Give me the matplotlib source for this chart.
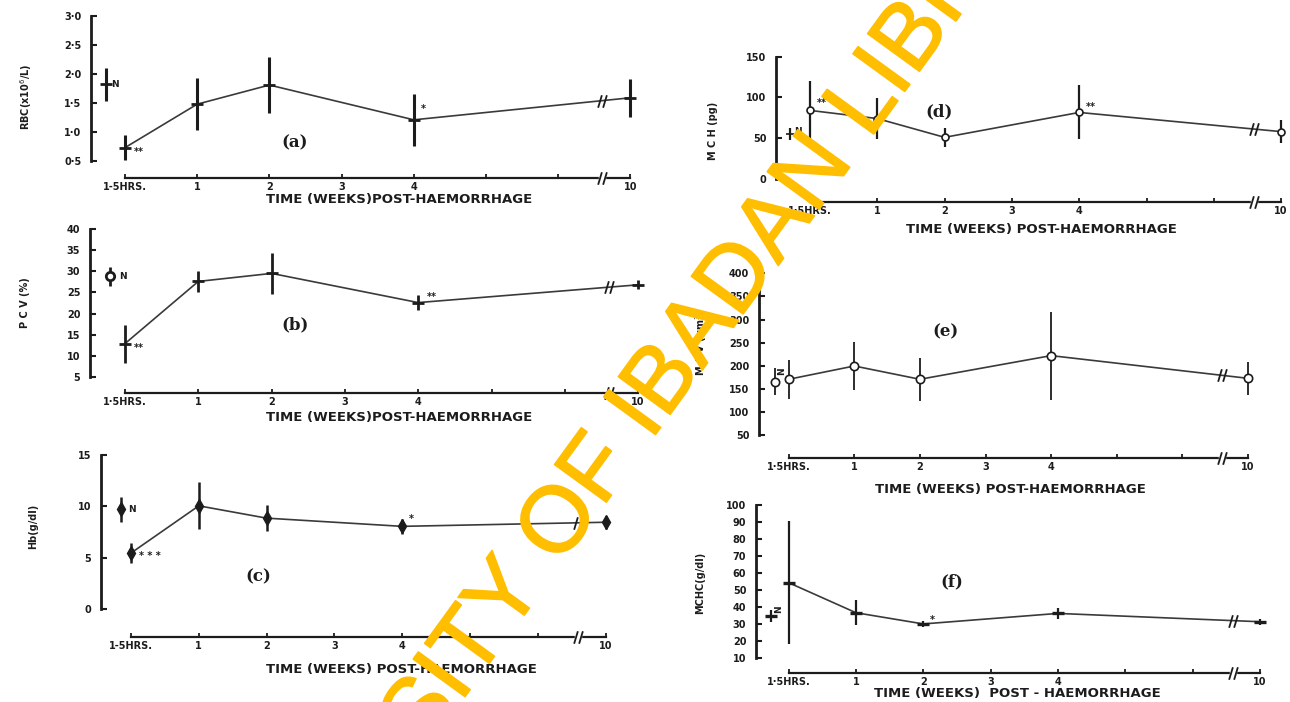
import matplotlib
matplotlib.use("Agg")
import matplotlib.pyplot as plt
import numpy as np
from matplotlib.path import Path
from matplotlib.ticker import FuncFormatter
from matplotlib import transforms as mtrans
from matplotlib import patheffects as pe

W, H = 1290, 702
fig = plt.figure(figsize=(W / 100, H / 100), dpi=100)
fig.patch.set_facecolor("white")

# ---------------------------------------------------------------- data
# time axis: 1-5 h is drawn at 0, weeks 1-4 at 1-4, week 10 after the break at 7
time_pos = [0, 1, 2, 4, 7]
tick_pos = [0, 1, 2, 3, 4, 5, 6, 7]
tick_labels_a = ["1-5HRS.", "1", "2", "3", "4", "", "", "10"]
tick_labels_b = ["1·5HRS.", "1", "2", "3", "4", "", "", "10"]

rbc_mean = [0.73, 1.48, 1.81, 1.21, 1.59]
rbc_err = [0.21, 0.45, 0.48, 0.45, 0.33]
rbc_normal, rbc_normal_err = 1.82, 0.29

pcv_mean = [12.9, 27.6, 29.5, 22.6, 26.8]
pcv_err = [4.5, 2.4, 4.9, 1.7, 1.1]
pcv_normal, pcv_normal_err = 28.8, 2.2

hb_mean = [5.45, 10.05, 8.85, 8.05, 8.45]
hb_err = [0.93, 2.3, 1.25, 0.7, 0.63]
hb_normal, hb_normal_err = 9.7, 1.2

mch_mean = [84, 74, 51, 81.5, 58]
mch_err = [36, 25, 12, 33, 14]
mch_normal, mch_normal_err = 55, 7

mcv_mean = [170.6, 199.4, 170.6, 221.8, 172.7]
mcv_err = [42, 52, 47, 95, 36]
mcv_normal, mcv_normal_err = 165, 29

mchc_mean = [54.2, 36.5, 29.9, 36.1, 31.2]
mchc_err = [36.4, 7.5, 1.8, 3.2, 1.8]
mchc_normal, mchc_normal_err = 34.6, 3.3

# ---------------------------------------------------------------- styling
INK = "#1c1c1c"
LINE = "#3a3a3a"
BREAK_POS = 6.6
XRIGHT = 7.15
TICK_FONT = dict(family="DejaVu Sans", weight="bold", size=7)
break_path = Path([(-0.7, -1), (-0.1, 1), (0.1, -1), (0.7, 1)],
                  [Path.MOVETO, Path.LINETO, Path.MOVETO, Path.LINETO])


def fx(px):
    return px / W


def fy(py):
    return 1 - py / H


def panel(geom, ylim, yticks, ylabel, xlabel, tick_labels, letter,
          mean, err, normal, normal_err, marker, ms, open_marker,
          elw, mew, yfmt=None):
    sx, p0, step, ytop, ybot, xaxis_y = geom["box"]
    x_right = p0 + XRIGHT * step
    ax = fig.add_axes([fx(sx), fy(ybot), (x_right - sx) / W, (ybot - ytop) / H])
    ax.patch.set_alpha(0)
    ax.set_xlim((sx - p0) / step, XRIGHT)
    ax.set_ylim(*ylim)
    for s in ("top", "right"):
        ax.spines[s].set_visible(False)
    outward = (xaxis_y - ybot) * 0.72
    ax.spines["left"].set_bounds(*ylim)
    ax.spines["left"].set_linewidth(2.0)
    ax.spines["left"].set_color(INK)
    ax.spines["bottom"].set_position(("outward", outward))
    ax.spines["bottom"].set_bounds(0, 7)
    ax.spines["bottom"].set_linewidth(1.6)
    ax.spines["bottom"].set_color(INK)

    ax.set_yticks(yticks)
    if yfmt:
        ax.yaxis.set_major_formatter(FuncFormatter(yfmt))
    ax.set_xticks(tick_pos)
    ax.set_xticklabels(tick_labels)
    ax.tick_params(axis="y", direction="in", length=4, width=1.5, pad=7,
                   colors=INK)
    ax.tick_params(axis="x", direction="in", length=3, width=1.3, pad=3,
                   colors=INK)
    for lab in ax.get_yticklabels() + ax.get_xticklabels():
        lab.set_fontproperties(matplotlib.font_manager.FontProperties(**TICK_FONT))
        lab.set_color(INK)

    # series
    ax.plot(time_pos, mean, color=LINE, lw=1.2, zorder=2)
    ax.errorbar(time_pos, mean, yerr=err, fmt="none", ecolor=INK,
                elinewidth=elw, capsize=0, zorder=3)
    ax.errorbar([normal["pos"]], [normal["value"]],
                yerr=[normal_err], fmt="none", ecolor=INK,
                elinewidth=elw, capsize=0, zorder=3)
    face = "white" if open_marker else INK
    ax.plot(time_pos, mean, ls="none", marker=marker, ms=ms, mfc=face,
            mec=INK, mew=mew, zorder=4)
    ax.plot([normal["pos"]], [normal["value"]], ls="none",
            marker=normal.get("marker", marker), ms=normal.get("ms", ms),
            mfc="white" if normal.get("open", open_marker) else INK,
            mec=INK, mew=mew, zorder=4)

    # break marks on the series line and on the time axis
    yb = np.interp(BREAK_POS, time_pos, mean)
    ax.plot([BREAK_POS], [yb], ls="none", marker=break_path, ms=9,
            mec=INK, mew=1.3, zorder=5)
    trans = mtrans.offset_copy(
        mtrans.blended_transform_factory(ax.transData, ax.transAxes),
        fig=fig, x=0, y=-outward, units="points")
    ax.plot([BREAK_POS], [0], transform=trans, ls="none", marker="s", ms=5,
            mfc="white", mec="white", clip_on=False, zorder=5)
    ax.plot([BREAK_POS], [0], transform=trans, ls="none", marker=break_path,
            ms=9, mec=INK, mew=1.3, clip_on=False, zorder=6)

    # normal-value label and significance marks
    nl = normal.get("label_rot", 0)
    ax.annotate("N", (normal["pos"], normal["value"]),
                xytext=normal.get("label_off", (6, 0)), textcoords="offset points",
                rotation=nl, ha="center", va="center", fontsize=6.5,
                fontweight="bold", color=INK)
    for idx, txt, off in geom.get("stars", []):
        ax.annotate(txt, (time_pos[idx], mean[idx]), xytext=off,
                    textcoords="offset points", ha="left", va="center",
                    fontsize=7, fontweight="bold", color=INK)

    fig.text(fx(geom["xlabel"][0]), fy(geom["xlabel"][1]), xlabel,
             ha="center", va="center", fontsize=9.5, fontweight="bold",
             family="DejaVu Sans", color=INK)
    fig.text(fx(geom["ylabel"][0]), fy(geom["ylabel"][1]), ylabel,
             ha="center", va="center", rotation=90, fontsize=7,
             fontweight="bold", family="DejaVu Sans", color=INK)
    fig.text(fx(geom["letter"][0]), fy(geom["letter"][1]), letter,
             ha="center", va="center", fontsize=12, fontweight="bold",
             family="DejaVu Serif", color=INK)
    return ax


def dot_decimal(v, _):
    return f"{v:.1f}".replace(".", "·")


def integer(v, _):
    return f"{v:.0f}"


# (a) RBC
panel(dict(box=(91, 125, 72.2, 16, 161, 178), xlabel=(399, 199),
           ylabel=(26, 97), letter=(295, 143),
           stars=[(0, "**", (6, -3)), (3, "*", (5, 8))]),
      (0.5, 3.0), [0.5, 1.0, 1.5, 2.0, 2.5, 3.0], "RBC(x10$^{6}$/L)",
      "TIME (WEEKS)POST-HAEMORRHAGE", tick_labels_a, "(a)",
      rbc_mean, rbc_err, dict(pos=-0.26, value=rbc_normal),
      rbc_normal_err, "_", 9, False, 2.2, 2.0, dot_decimal)

# (b) PCV
panel(dict(box=(90, 125, 73.3, 229, 377, 393), xlabel=(399, 418),
           ylabel=(25, 303), letter=(295, 325),
           stars=[(0, "**", (6, -3)), (3, "**", (6, 4))]),
      (5, 40), [5, 10, 15, 20, 25, 30, 35, 40], "P C V (%)",
      "TIME (WEEKS)POST-HAEMORRHAGE", tick_labels_b, "(b)",
      pcv_mean, pcv_err, dict(pos=-0.2, value=pcv_normal, marker="o", ms=6,
                              open=True, label_off=(9, 0)),
      pcv_normal_err, "_", 9, False, 2.0, 2.0, integer)

# (c) Hb
panel(dict(box=(101, 131, 67.8, 455, 609, 637), xlabel=(401, 670),
           ylabel=(33, 526), letter=(258, 577),
           stars=[(0, "* * *", (6, -2)), (3, "*", (5, 5))]),
      (0, 15), [0, 5, 10, 15], "Hb(g/dl)",
      "TIME (WEEKS) POST-HAEMORRHAGE", tick_labels_a, "(c)",
      hb_mean, hb_err, dict(pos=-0.15, value=hb_normal, label_off=(8, 0)),
      hb_normal_err, "d", 7, False, 1.8, 1.0, integer)

# (d) MCH
panel(dict(box=(776, 810, 67.3, 56.5, 179, 202), xlabel=(1041, 229),
           ylabel=(713, 131), letter=(939, 112),
           stars=[(0, "**", (5, 5)), (3, "**", (5, 4))]),
      (0, 150), [0, 50, 100, 150], "M C H (pg)",
      "TIME (WEEKS) POST-HAEMORRHAGE", tick_labels_b, "(d)",
      mch_mean, mch_err, dict(pos=-0.3, value=mch_normal, marker="_", ms=6,
                              open=False, label_off=(6, 2)),
      mch_normal_err, "o", 5, True, 1.6, 1.2, integer)

# (e) MCV
panel(dict(box=(759, 788.7, 65.6, 273.3, 435, 458.3), xlabel=(1010, 490),
           ylabel=(701, 343), letter=(945, 332), stars=[]),
      (50, 400), [50, 100, 150, 200, 250, 300, 350, 400], "M C V (μm$^{3}$)",
      "TIME (WEEKS) POST-HAEMORRHAGE", tick_labels_b, "(e)",
      mcv_mean, mcv_err, dict(pos=-0.21, value=mcv_normal,
                              label_rot=90, label_off=(5, 8)),
      mcv_normal_err, "o", 6, True, 1.3, 1.2, integer)

# (f) MCHC
panel(dict(box=(756, 788.7, 67.3, 505, 657.7, 672.7), xlabel=(1017, 693),
           ylabel=(700, 583), letter=(952, 582),
           stars=[(2, "*", (5, 3))]),
      (10, 100), [10, 20, 30, 40, 50, 60, 70, 80, 90, 100], "MCHC(g/dl)",
      "TIME (WEEKS)  POST - HAEMORRHAGE", tick_labels_b, "(f)",
      mchc_mean, mchc_err, dict(pos=-0.26, value=mchc_normal,
                                label_rot=90, label_off=(5, 5)),
      mchc_normal_err, "_", 9, False, 1.6, 2.4, integer)

# library watermark across the sheet
WM_COLOR = "#FFBF00"
fig.text(fx(640), fy(415), "UNIVERSITY OF IBADAN LIBRARY", rotation=54,
         rotation_mode="anchor", ha="center", va="center", fontsize=67,
         color=WM_COLOR, family="Liberation Sans", zorder=20,
         path_effects=[pe.withStroke(linewidth=1.2, foreground=WM_COLOR)])

fig.savefig("out.png", dpi=100, facecolor="white")
